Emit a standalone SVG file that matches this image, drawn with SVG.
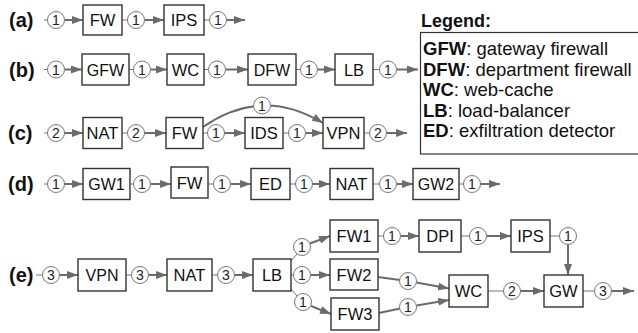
<svg xmlns="http://www.w3.org/2000/svg" width="638" height="333" viewBox="0 0 638 333">
<defs>
<marker id="ah" viewBox="0 0 11 8" refX="11" refY="4" markerWidth="11" markerHeight="8" markerUnits="userSpaceOnUse" orient="auto">
<path d="M0,0 L11,4 L0,8 z" fill="#6b6b6b"/>
</marker>
</defs>
<style>
.bx{fill:#fff;stroke:#333;stroke-width:1.4}
.bt{font-family:"Liberation Sans",Arial,sans-serif;font-size:16.5px;fill:#111;text-anchor:middle}
.bt.sm{font-size:16px}
.st{stroke:#777;stroke-width:1;fill:none}
.ar{stroke:#6b6b6b;stroke-width:2;fill:none;marker-end:url(#ah)}
.cc{fill:#fff;stroke:#777;stroke-width:1}
.ct{font-family:"Liberation Sans",Arial,sans-serif;font-size:14px;fill:#222;text-anchor:middle}
.rl{font-family:"Liberation Sans",Arial,sans-serif;font-size:20px;font-weight:bold;fill:#111}
.lh{font-family:"Liberation Sans",Arial,sans-serif;font-size:18px;font-weight:bold;fill:#111}
.lg{font-family:"Liberation Sans",Arial,sans-serif;font-size:18.5px;fill:#111}
.lg tspan.b{font-weight:bold}
</style>

<g id="labels">
<text class="rl" x="9" y="27">(a)</text>
<text class="rl" x="9" y="76.5">(b)</text>
<text class="rl" x="8" y="140">(c)</text>
<text class="rl" x="8" y="191">(d)</text>
<text class="rl" x="9" y="282">(e)</text>
</g>

<g id="legend">
<text class="lh" x="421" y="27">Legend:</text>
<rect x="420.5" y="32.5" width="230" height="121.5" fill="#fff" stroke="#333" stroke-width="1.2"/>
<text class="lg" x="423" y="55"><tspan class="b">GFW</tspan>: gateway firewall</text>
<text class="lg" x="423" y="75.5"><tspan class="b">DFW</tspan>: department firewall</text>
<text class="lg" x="423" y="96"><tspan class="b">WC</tspan>: web-cache</text>
<text class="lg" x="423" y="116.5"><tspan class="b">LB</tspan>: load-balancer</text>
<text class="lg" x="423" y="137"><tspan class="b">ED</tspan>: exfiltration detector</text>
</g>

<g id="connectors">
<!-- row a -->
<line class="st" x1="44" y1="20" x2="48" y2="20"/><line class="ar" x1="64.5" y1="20" x2="83" y2="20"/>
<line class="st" x1="122" y1="20" x2="128" y2="20"/><line class="ar" x1="144.5" y1="20" x2="164" y2="20"/>
<line class="st" x1="204" y1="20" x2="210" y2="20"/><line class="ar" x1="226.5" y1="20" x2="245" y2="20"/>
<!-- row b -->
<line class="st" x1="44" y1="69.5" x2="48" y2="69.5"/><line class="ar" x1="64.5" y1="69.5" x2="82" y2="69.5"/>
<line class="st" x1="129" y1="69.5" x2="134" y2="69.5"/><line class="ar" x1="150.5" y1="69.5" x2="167" y2="69.5"/>
<line class="st" x1="204" y1="69.5" x2="209" y2="69.5"/><line class="ar" x1="225.5" y1="69.5" x2="248" y2="69.5"/>
<line class="st" x1="296" y1="69.5" x2="301" y2="69.5"/><line class="ar" x1="317.5" y1="69.5" x2="335" y2="69.5"/>
<line class="st" x1="373" y1="69.5" x2="380" y2="69.5"/><line class="ar" x1="396.5" y1="69.5" x2="418" y2="69.5"/>
<!-- row c -->
<line class="st" x1="44" y1="133" x2="48" y2="133"/><line class="ar" x1="64.5" y1="133" x2="83" y2="133"/>
<line class="st" x1="122" y1="133" x2="128" y2="133"/><line class="ar" x1="144.5" y1="133" x2="166" y2="133"/>
<line class="st" x1="203" y1="133" x2="208" y2="133"/><line class="ar" x1="224.5" y1="133" x2="245" y2="133"/>
<line class="st" x1="283" y1="133" x2="289" y2="133"/><line class="ar" x1="305.5" y1="133" x2="323" y2="133"/>
<line class="st" x1="364" y1="133" x2="370" y2="133"/><line class="ar" x1="386.5" y1="133" x2="407" y2="133"/>
<path class="ar" d="M203,127 Q262,86 323,123"/>
<!-- row d -->
<line class="st" x1="44" y1="184" x2="48" y2="184"/><line class="ar" x1="64.5" y1="184" x2="83" y2="184"/>
<line class="st" x1="130" y1="184" x2="134" y2="184"/><line class="ar" x1="150.5" y1="184" x2="171" y2="184"/>
<line class="st" x1="208" y1="184" x2="214" y2="184"/><line class="ar" x1="230.5" y1="184" x2="251" y2="184"/>
<line class="st" x1="290" y1="184" x2="296" y2="184"/><line class="ar" x1="312.5" y1="184" x2="330" y2="184"/>
<line class="st" x1="373" y1="184" x2="380" y2="184"/><line class="ar" x1="396.5" y1="184" x2="413" y2="184"/>
<line class="st" x1="459" y1="184" x2="464" y2="184"/><line class="ar" x1="480.5" y1="184" x2="500" y2="184"/>
<!-- row e -->
<line class="st" x1="36" y1="275" x2="43" y2="275"/><line class="ar" x1="59.5" y1="275" x2="78" y2="275"/>
<line class="st" x1="126" y1="275" x2="132" y2="275"/><line class="ar" x1="148.5" y1="275" x2="167" y2="275"/>
<line class="st" x1="212" y1="275" x2="218" y2="275"/><line class="ar" x1="234.5" y1="275" x2="253" y2="275"/>
<line class="st" x1="291" y1="261" x2="297" y2="254"/><line class="ar" x1="310" y1="243.5" x2="330" y2="236"/>
<line class="st" x1="291" y1="275" x2="294" y2="275"/><line class="ar" x1="310.5" y1="275" x2="330" y2="275"/>
<line class="st" x1="291" y1="289" x2="297" y2="296"/><line class="ar" x1="311" y1="306" x2="331" y2="314"/>
<line class="st" x1="378" y1="236" x2="384" y2="236"/><line class="ar" x1="400.5" y1="236" x2="419" y2="236"/>
<line class="st" x1="461" y1="236" x2="470" y2="236"/><line class="ar" x1="486.5" y1="236" x2="511" y2="236"/>
<line class="st" x1="550" y1="236" x2="560" y2="236"/><line class="ar" x1="568" y1="244.5" x2="568" y2="275"/>
<line class="ar" x1="378" y1="277" x2="400" y2="280" style="marker-end:none"/><line class="ar" x1="416.5" y1="282.5" x2="449" y2="288.5"/>
<line class="ar" x1="379" y1="313" x2="400" y2="308.5" style="marker-end:none"/><line class="ar" x1="416.5" y1="305.5" x2="449" y2="300"/>
<line class="st" x1="488" y1="291" x2="504" y2="291"/><line class="ar" x1="520.5" y1="291" x2="544" y2="291"/>
<line class="st" x1="583" y1="291" x2="595" y2="291"/><line class="ar" x1="611.5" y1="291" x2="634" y2="291"/>
<!-- counts -->
<g id="counts">
<circle class="cc" cx="56" cy="20" r="8.5"/><text class="ct" x="56" y="25">1</text>
<circle class="cc" cx="136" cy="20" r="8.5"/><text class="ct" x="136" y="25">1</text>
<circle class="cc" cx="218" cy="20" r="8.5"/><text class="ct" x="218" y="25">1</text>
<circle class="cc" cx="56" cy="69.5" r="8.5"/><text class="ct" x="56" y="74.5">1</text>
<circle class="cc" cx="142" cy="69.5" r="8.5"/><text class="ct" x="142" y="74.5">1</text>
<circle class="cc" cx="217" cy="69.5" r="8.5"/><text class="ct" x="217" y="74.5">1</text>
<circle class="cc" cx="309" cy="69.5" r="8.5"/><text class="ct" x="309" y="74.5">1</text>
<circle class="cc" cx="388" cy="69.5" r="8.5"/><text class="ct" x="388" y="74.5">1</text>
<circle class="cc" cx="56" cy="133" r="8.5"/><text class="ct" x="56" y="138">2</text>
<circle class="cc" cx="136" cy="133" r="8.5"/><text class="ct" x="136" y="138">2</text>
<circle class="cc" cx="216" cy="133" r="8.5"/><text class="ct" x="216" y="138">1</text>
<circle class="cc" cx="297" cy="133" r="8.5"/><text class="ct" x="297" y="138">1</text>
<circle class="cc" cx="378" cy="133" r="8.5"/><text class="ct" x="378" y="138">2</text>
<circle class="cc" cx="262" cy="105.5" r="8.5"/><text class="ct" x="262" y="110.5">1</text>
<circle class="cc" cx="56" cy="184" r="8.5"/><text class="ct" x="56" y="189">1</text>
<circle class="cc" cx="142" cy="184" r="8.5"/><text class="ct" x="142" y="189">1</text>
<circle class="cc" cx="222" cy="184" r="8.5"/><text class="ct" x="222" y="189">1</text>
<circle class="cc" cx="304" cy="184" r="8.5"/><text class="ct" x="304" y="189">1</text>
<circle class="cc" cx="388" cy="184" r="8.5"/><text class="ct" x="388" y="189">1</text>
<circle class="cc" cx="472" cy="184" r="8.5"/><text class="ct" x="472" y="189">1</text>
<circle class="cc" cx="51" cy="275" r="8.5"/><text class="ct" x="51" y="280">3</text>
<circle class="cc" cx="140" cy="275" r="8.5"/><text class="ct" x="140" y="280">3</text>
<circle class="cc" cx="226" cy="275" r="8.5"/><text class="ct" x="226" y="280">3</text>
<circle class="cc" cx="302" cy="247" r="8.5"/><text class="ct" x="302" y="252">1</text>
<circle class="cc" cx="302" cy="275" r="8.5"/><text class="ct" x="302" y="280">1</text>
<circle class="cc" cx="303" cy="302" r="8.5"/><text class="ct" x="303" y="307">1</text>
<circle class="cc" cx="392" cy="236" r="8.5"/><text class="ct" x="392" y="241">1</text>
<circle class="cc" cx="478" cy="236" r="8.5"/><text class="ct" x="478" y="241">1</text>
<circle class="cc" cx="568" cy="236" r="8.5"/><text class="ct" x="568" y="241">1</text>
<circle class="cc" cx="408" cy="281" r="8.5"/><text class="ct" x="408" y="286">1</text>
<circle class="cc" cx="408" cy="307" r="8.5"/><text class="ct" x="408" y="312">1</text>
<circle class="cc" cx="512" cy="291" r="8.5"/><text class="ct" x="512" y="296">2</text>
<circle class="cc" cx="603" cy="291" r="8.5"/><text class="ct" x="603" y="296">3</text>
</g>
</g>

<g id="a-fw"><rect class="bx" x="83" y="5" width="39" height="30"/><text class="bt" x="102.5" y="26">FW</text></g>
<g id="a-ips"><rect class="bx" x="164" y="5" width="40" height="30"/><text class="bt" x="184" y="26">IPS</text></g>

<g id="b-gfw"><rect class="bx" x="82" y="54" width="47" height="31"/><text class="bt sm" x="105.5" y="75.5">GFW</text></g>
<g id="b-wc"><rect class="bx" x="167" y="54" width="37" height="31"/><text class="bt" x="185.5" y="75.5">WC</text></g>
<g id="b-dfw"><rect class="bx" x="248" y="54" width="48" height="31"/><text class="bt sm" x="272" y="75.5">DFW</text></g>
<g id="b-lb"><rect class="bx" x="335" y="54" width="38" height="31"/><text class="bt" x="354" y="75.5">LB</text></g>

<g id="c-nat"><rect class="bx" x="83" y="117.5" width="39" height="31"/><text class="bt" x="102.5" y="139">NAT</text></g>
<g id="c-fw"><rect class="bx" x="166" y="117.5" width="37" height="31"/><text class="bt" x="184.5" y="139">FW</text></g>
<g id="c-ids"><rect class="bx" x="245" y="117.5" width="38" height="31"/><text class="bt" x="264" y="139">IDS</text></g>
<g id="c-vpn"><rect class="bx" x="323" y="117.5" width="41" height="31"/><text class="bt" x="343.5" y="139">VPN</text></g>

<g id="d-gw1"><rect class="bx" x="83" y="168.5" width="47" height="31"/><text class="bt sm" x="106.5" y="190">GW1</text></g>
<g id="d-fw"><rect class="bx" x="171" y="167" width="37" height="31"/><text class="bt" x="189.5" y="188.5">FW</text></g>
<g id="d-ed"><rect class="bx" x="251" y="168.5" width="39" height="31"/><text class="bt" x="270.5" y="190">ED</text></g>
<g id="d-nat"><rect class="bx" x="330" y="168.5" width="43" height="31"/><text class="bt" x="351.5" y="190">NAT</text></g>
<g id="d-gw2"><rect class="bx" x="413" y="168.5" width="46" height="31"/><text class="bt sm" x="436" y="190">GW2</text></g>

<g id="e-vpn"><rect class="bx" x="78" y="259" width="48" height="32"/><text class="bt sm" x="102" y="281">VPN</text></g>
<g id="e-nat"><rect class="bx" x="167" y="259" width="45" height="32"/><text class="bt" x="189.5" y="281">NAT</text></g>
<g id="e-lb"><rect class="bx" x="253" y="259" width="38" height="32"/><text class="bt" x="272" y="281">LB</text></g>
<g id="e-fw1"><rect class="bx" x="330" y="220" width="48" height="32"/><text class="bt" x="354" y="242">FW1</text></g>
<g id="e-fw2"><rect class="bx" x="330" y="259" width="48" height="31"/><text class="bt" x="354" y="280.5">FW2</text></g>
<g id="e-fw3"><rect class="bx" x="331" y="298" width="48" height="32"/><text class="bt" x="355" y="320">FW3</text></g>
<g id="e-dpi"><rect class="bx" x="419" y="220" width="42" height="32"/><text class="bt" x="440" y="242">DPI</text></g>
<g id="e-ips"><rect class="bx" x="511" y="220" width="39" height="32"/><text class="bt" x="530.5" y="242">IPS</text></g>
<g id="e-wc"><rect class="bx" x="449" y="275" width="39" height="32"/><text class="bt" x="468.5" y="297">WC</text></g>
<g id="e-gw"><rect class="bx" x="544" y="275" width="39" height="32"/><text class="bt" x="563.5" y="297">GW</text></g>
</svg>
